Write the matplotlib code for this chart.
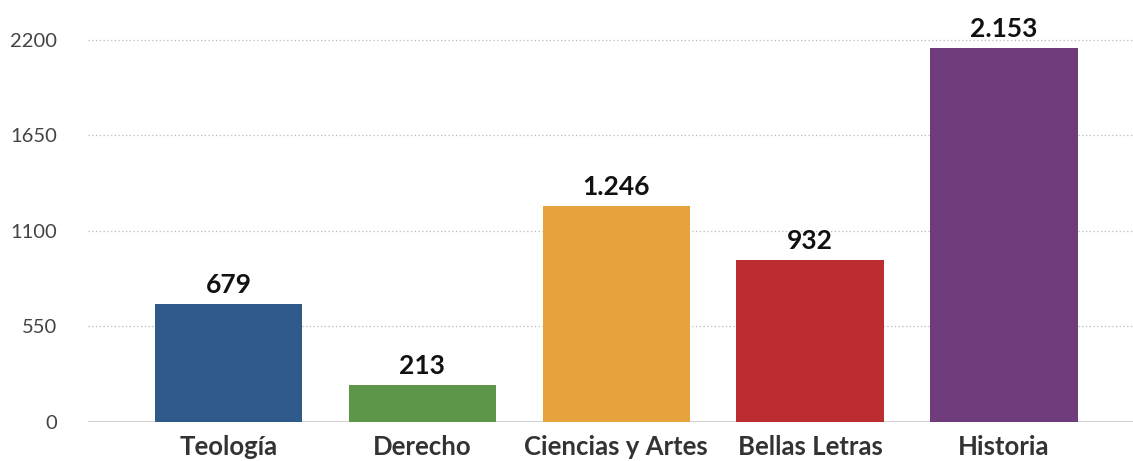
import matplotlib
matplotlib.use("Agg")
import matplotlib.pyplot as plt

categories = ["Teología", "Derecho", "Ciencias y Artes", "Bellas Letras", "Historia"]
values = [679, 213, 1246, 932, 2153]
colors = ["#2f5989", "#5d9648", "#e6a23c", "#bb2d30", "#6e3c7b"]
yticks = [0, 550, 1100, 1650, 2200]


def es_format(v):
    # thousands separator with a dot, as in the original
    return "{:,}".format(v).replace(",", ".")


plt.rcParams["font.family"] = ["Lato", "DejaVu Sans"]

fig = plt.figure(figsize=(11.33, 4.61), dpi=100)
ax = fig.add_axes([88 / 1133, 39 / 461, 1 - 88 / 1133, 1 - 39 / 461])

x = list(range(len(categories)))
bars = ax.bar(x, values, width=0.76, color=colors, zorder=3)

for b, v in zip(bars, values):
    ax.text(b.get_x() + b.get_width() / 2, v + 40, es_format(v),
            ha="center", va="bottom", fontsize=19, fontweight="bold",
            color="#111111", zorder=4)

ax.set_xlim(-0.724, 4.665)
ax.set_ylim(0, 2430)
ax.set_yticks(yticks)
ax.set_yticklabels([str(t) for t in yticks])
ax.set_xticks(x)
ax.set_xticklabels(categories)

ax.grid(axis="y", linestyle=(0, (1, 2)), color="#bbbbbb", linewidth=0.9, zorder=0)
ax.axhline(0, color="#cccccc", linewidth=2, zorder=2)

for s in ax.spines.values():
    s.set_visible(False)
ax.tick_params(axis="y", length=0, pad=22, labelsize=14.5, labelcolor="#444444")
ax.tick_params(axis="x", length=0, pad=9, labelsize=18.5, labelcolor="#333333")
for lbl in ax.get_xticklabels():
    lbl.set_fontweight("bold")

fig.savefig("out.png", dpi=100)
